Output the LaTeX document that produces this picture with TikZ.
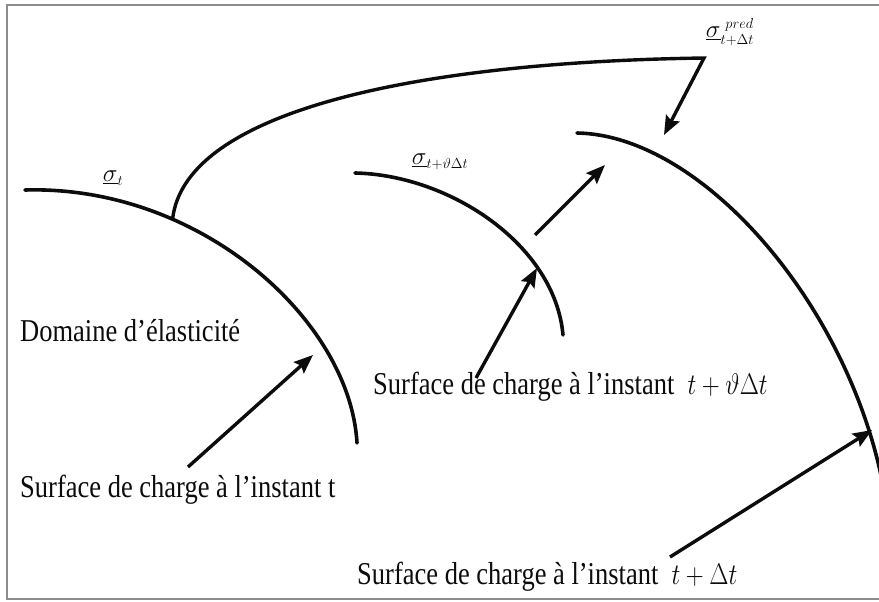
\documentclass[tikz,border=0pt]{standalone}
\usepackage{fontspec}
\setmainfont{Liberation Serif}
\usepackage{xcolor}
\usepackage{graphicx}
\usetikzlibrary{arrows.meta}
\definecolor{ink}{RGB}{12,12,12}
\definecolor{rim}{RGB}{140,140,140}
\newcommand{\tallText}[1]{\scalebox{1}[1.2]{#1}}

\begin{document}
\begin{tikzpicture}[
    x=1pt, y=-1pt,
    surf/.style={line width=3.6pt, draw=ink, line cap=round},
    arr/.style={-{Stealth[length=19pt, width=15pt, inset=3pt]}, line width=3.4pt, draw=ink},
    lbl/.style={font=\fontsize{26.5}{30}\selectfont, text=ink, inner sep=0pt, anchor=west},
    sig/.style={font=\fontsize{30}{32}\selectfont, text=ink, inner sep=0pt}
  ]
    \useasboundingbox (0,0) rectangle (879,602);
    \draw[rim, line width=2.5pt] (890,5) -- (7,5) -- (7,599) -- (890,599);

    % load surfaces
    \draw[surf] (25,190) .. controls (200,185) and (350,320) .. (357,443)
      coordinate[pos=0.3] (fork);
    \draw[surf] (355,173) .. controls (450,175) and (555,245) .. (563,335);
    \draw[surf] (577,133) .. controls (700,135) and (845,300) .. (882,480);

    % stress labels
    \node[sig] (sgT) at (113,178) {$\underline{\sigma}_{\scriptscriptstyle t}$};
    \node[sig] (sgTh) at (440,162) {$\underline{\sigma}_{\scriptscriptstyle t+\vartheta\Delta t}$};
    \node[sig] (sgPr) at (730,32) {$\underline{\sigma}_{\scriptscriptstyle t+\Delta t}^{\scriptscriptstyle\,\,pred}$};

    % texts
    \node[lbl] (dom) at (20,331) {\tallText{Domaine d’élasticité}};
    \node[lbl] (surfT) at (20,490) {\tallText{Surface de charge à l’instant t}};
    \node[lbl] (surfTh) at (373,387) {\tallText{Surface de charge à l’instant\enspace $t+\vartheta\Delta t$}};
    \node[lbl] (surfDt) at (357,577) {\tallText{Surface de charge à l’instant\enspace $t+\Delta t$}};

    % arrow ends
    \coordinate (aT) at (188,467);
    \coordinate (hT) at (313,355);
    \coordinate (aTh) at (476,378);
    \coordinate (hTh) at (537,268);
    \coordinate (aMid) at (535,235);
    \coordinate (hMid) at (605,165);
    \coordinate (corner) at (704,58);
    \coordinate (hPr) at (664,135);
    \coordinate (aDt) at (670,557);
    \coordinate (hDt) at (872,430);

    \draw[arr] (aT) -- (hT);
    \draw[arr] (aTh) -- (hTh);
    \draw[arr] (aMid) -- (hMid);
    \draw[arr] (fork) .. controls (185,110) and (420,62) .. (corner) -- (hPr);
    \draw[arr] (aDt) -- (hDt);
\end{tikzpicture}
\end{document}
